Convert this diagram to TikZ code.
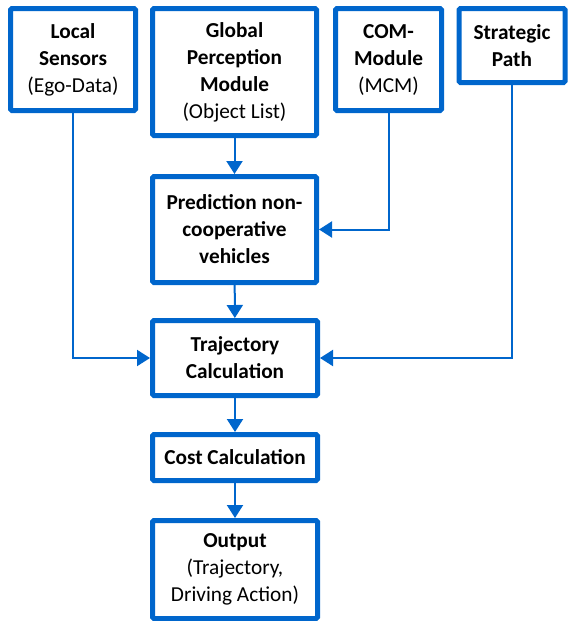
\documentclass[tikz,border=0pt]{standalone}
\usepackage{fontspec}
\setmainfont{Carlito}
\usetikzlibrary{arrows.meta}
\definecolor{bleu}{RGB}{0,102,204}

\begin{document}
\begin{tikzpicture}[
      x=1pt,y=-1pt,
      bloc/.style={
        draw=bleu,
        line width=5pt,
        rounded corners=1.5pt,
        fill=white,
        align=center,
        inner sep=0pt,
        font=\fontsize{21.3}{27}\selectfont
      },
      fleche/.style={
        draw=bleu,
        line width=2pt,
        -{Triangle[width=16pt,length=13pt]}
      }
    ]
      \useasboundingbox (0,0) rectangle (568,621);

      \node (ls) at (73,59.5) [bloc,minimum width=125pt,minimum height=102pt]{\textbf{Local}\\\textbf{Sensors}\\(Ego-Data)};
      \node (gp) at (234.5,72) [bloc,minimum width=164pt,minimum height=127pt]{\textbf{Global}\\\textbf{Perception}\\\textbf{Module}\\(Object List)};
      \node (com) at (388.5,59.5) [bloc,minimum width=106pt,minimum height=102pt]{\textbf{COM-}\\\textbf{Module}\\(MCM)};
      \node (sp) at (512,45.5) [bloc,minimum width=106pt,minimum height=74pt]{\textbf{Strategic}\\\textbf{Path}};

      \node (pred) at (234.5,229.5) [bloc,minimum width=164pt,minimum height=106pt]{\textbf{Prediction non-}\\\textbf{cooperative}\\\textbf{vehicles}};
      \node (traj) at (235,358) [bloc,minimum width=165pt,minimum height=75pt]{\textbf{Trajectory}\\\textbf{Calculation}};
      \node (cost) at (235,457.5) [bloc,minimum width=165pt,minimum height=46pt]{\textbf{Cost Calculation}};
      \node (out) at (235,569.5) [bloc,minimum width=165pt,minimum height=98pt]{\textbf{Output}\\(Trajectory,\\Driving Action)};

      \draw[fleche] (gp) -- (pred);
      \draw[fleche] (com) |- (pred);
      \draw[fleche] (pred) -- (traj);
      \draw[fleche] (ls) |- (traj);
      \draw[fleche] (sp) |- (traj);
      \draw[fleche] (traj) -- (cost);
      \draw[fleche] (cost) -- (out);

    \end{tikzpicture}
\end{document}
